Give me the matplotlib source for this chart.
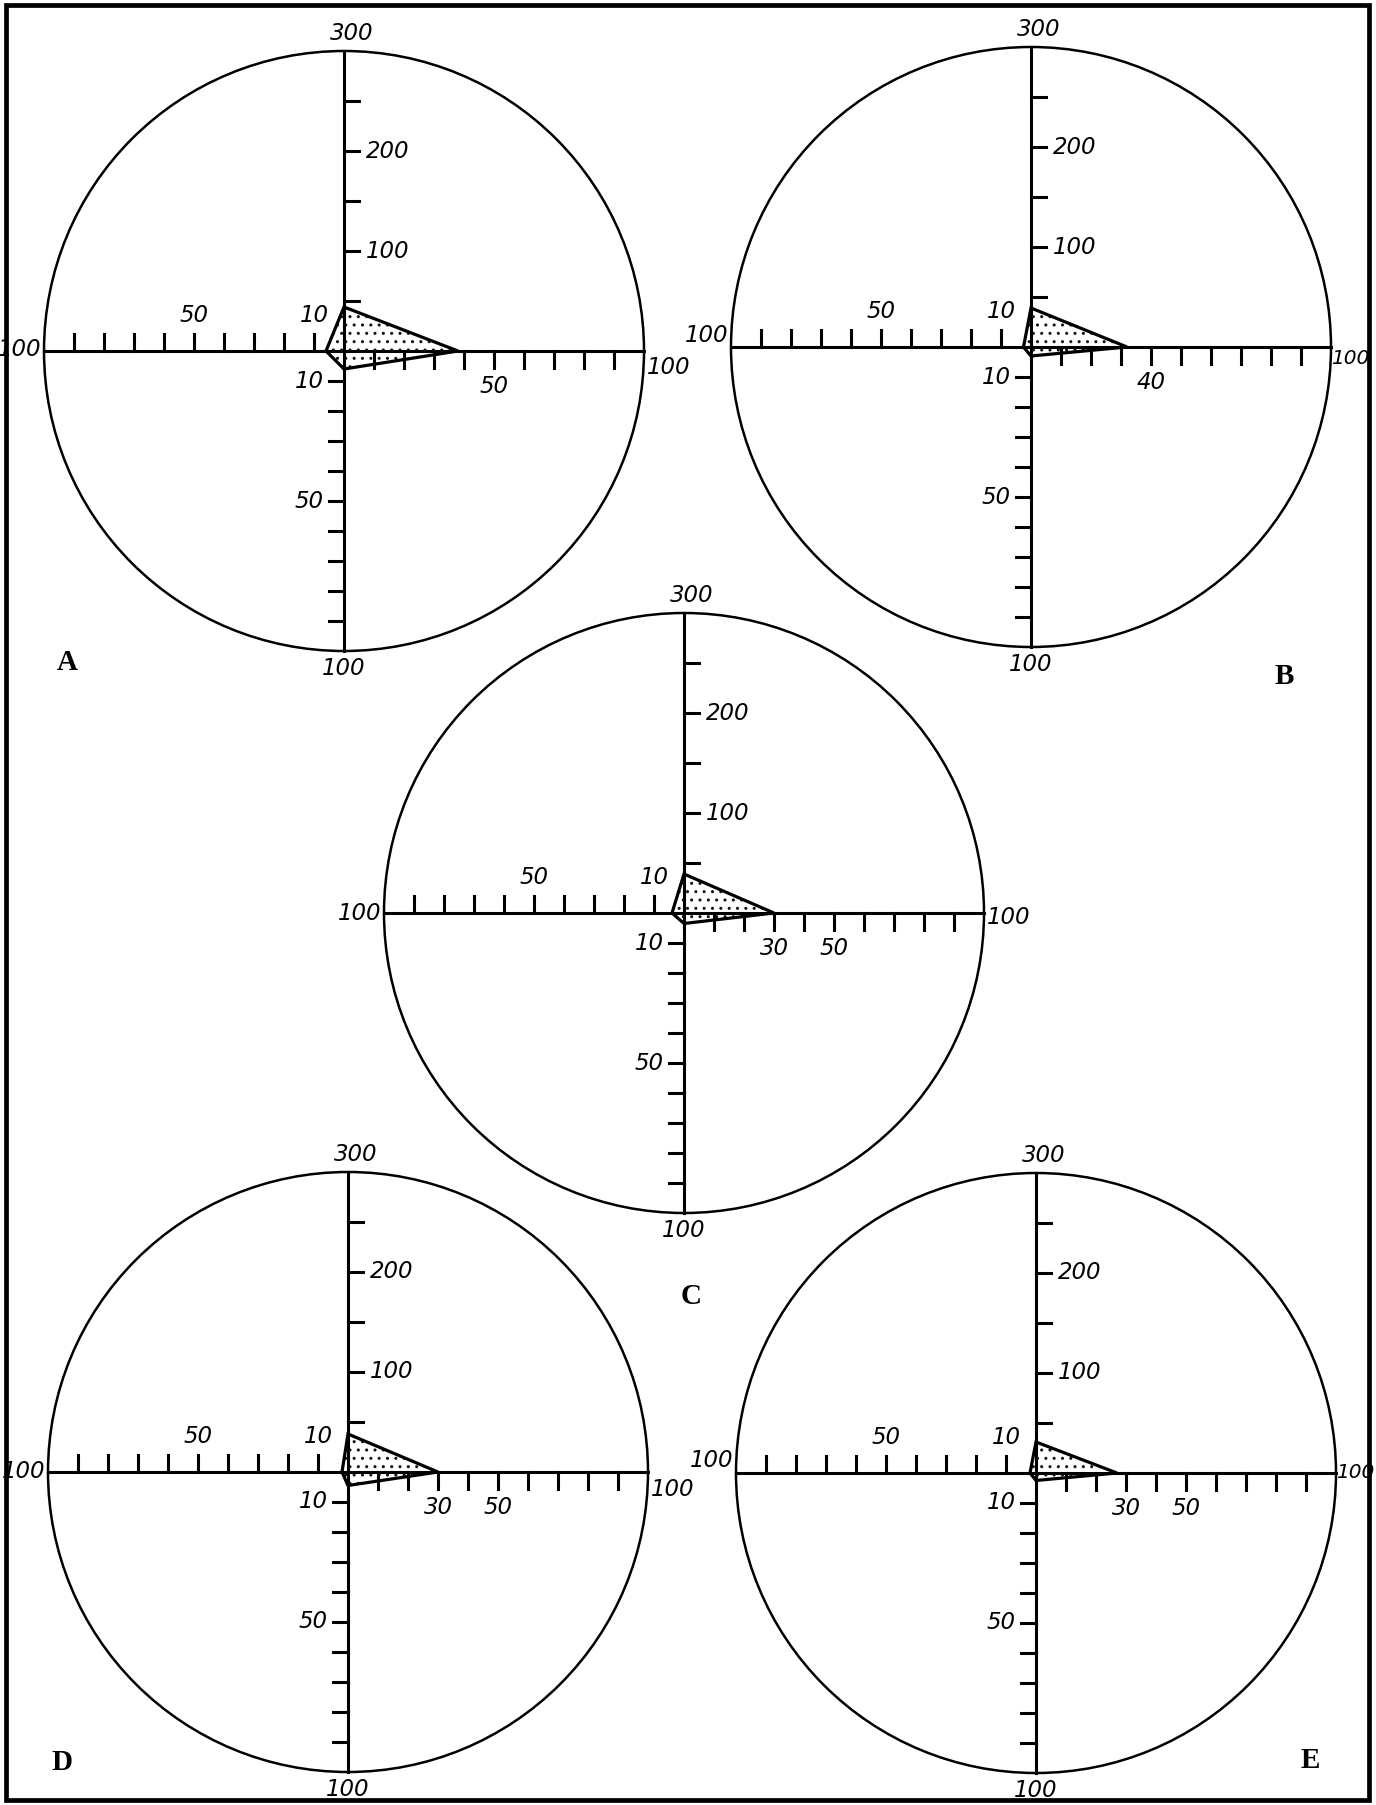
import matplotlib
matplotlib.use("Agg")
import matplotlib.pyplot as plt
from matplotlib.patches import Circle, Polygon, Rectangle

# ---- data -------------------------------------------------------------
panels = ["A", "B", "C", "D", "E"]
up_vals = [44, 39, 39, 38, 31]       # upper arm, full scale 300
right_vals = [38, 32, 30, 30, 27]    # right arm, full scale 100
down_vals = [6, 3, 3.5, 4.5, 2.5]    # lower arm, full scale 100
left_vals = [6, 2.5, 4, 2, 2]        # left arm, full scale 100

up_max = 300
side_max = 100

up_ticks = [50, 100, 150, 200, 250]
up_ticklabels = ["", "100", "", "200", ""]
side_ticks = [10, 20, 30, 40, 50, 60, 70, 80, 90]
left_ticklabels = ["10", "", "", "", "50", "", "", "", ""]
down_ticklabels = ["10", "", "", "", "50", "", "", "", ""]
right_ticklabels = [
    ["", "", "", "", "50", "", "", "", ""],
    ["", "", "", "40", "", "", "", "", ""],
    ["", "", "30", "", "50", "", "", "", ""],
    ["", "", "30", "", "50", "", "", "", ""],
    ["", "", "30", "", "50", "", "", "", ""],
]
rim_top_label = "300"
rim_side_label = "100"

# ---- layout (pixels) ----------------------------------------------------
W, H = 1376, 1805
DPI = 100
R = 300.0                      # radius of each dial in pixels
HALF = 400.0                   # half-size of each axes box in pixels
centers = [(344, 351), (1031, 347), (684, 913), (348, 1472), (1036, 1473)]
letter_pos = [(67, 662), (1284, 677), (691, 1296), (62, 1762), (1310, 1760)]
# vertical pixel offsets (down is positive) of the rim labels on the left/right arms
left_rim_dy = [-2, -11, 0, 0, -12]
right_rim_dy = [17, 12, 5, 18, 0]
# the dials at the right margin get a tighter rim label
right_rim_gap = [3, 0, 3, 3, 0]
right_rim_size = [16.5, 14.5, 16.5, 16.5, 14.5]

num_font = dict(family="DejaVu Sans", style="italic", fontsize=16.5, color="black")
letter_font = dict(family="Liberation Serif", fontweight="bold", fontsize=21, color="black")

fig = plt.figure(figsize=(W / DPI, H / DPI), dpi=DPI)
fig.patch.set_facecolor("white")

# outer frame
frame_ax = fig.add_axes([0, 0, 1, 1])
frame_ax.set_xlim(0, W)
frame_ax.set_ylim(H, 0)
frame_ax.axis("off")
frame_ax.add_patch(Rectangle((6, 5), 1363, 1795, fill=False, lw=3.4, ec="black"))

k = HALF / R       # axes half-width in radius units
px = 1.0 / R       # one pixel in radius units
lw_axis = 2.2
tick_len = 17 * px

for i, name in enumerate(panels):
    cx, cy = centers[i]
    ax = fig.add_axes([(cx - HALF) / W, 1 - (cy + HALF) / H, 2 * HALF / W, 2 * HALF / H])
    ax.set_xlim(-k, k)
    ax.set_ylim(-k, k)
    ax.set_aspect("equal")
    ax.axis("off")

    # dial rim and the four arms
    ax.add_patch(Circle((0, 0), 1.0, fill=False, lw=1.8, ec="black", zorder=2))
    ax.plot([-1, 1], [0, 0], color="black", lw=lw_axis, zorder=3)
    ax.plot([0, 0], [-1, 1], color="black", lw=lw_axis, zorder=3)

    # upper arm ticks (right side of the arm)
    for t, lab in zip(up_ticks, up_ticklabels):
        y = t / up_max
        ax.plot([0, 15 * px], [y, y], color="black", lw=lw_axis, zorder=3)
        if lab:
            ax.text(22 * px, y, lab, ha="left", va="center", **num_font)

    # side arms
    for t, llab, dlab, rlab in zip(side_ticks, left_ticklabels, down_ticklabels,
                                   right_ticklabels[i]):
        v = t / side_max
        ax.plot([-v, -v], [0, tick_len], color="black", lw=lw_axis, zorder=3)
        ax.plot([v, v], [0, -tick_len], color="black", lw=lw_axis, zorder=3)
        ax.plot([-15 * px, 0], [-v, -v], color="black", lw=lw_axis, zorder=3)
        if llab:
            ax.text(-v, 24 * px, llab, ha="center", va="bottom", **num_font)
        if dlab:
            ax.text(-20 * px, -v, dlab, ha="right", va="center", **num_font)
        if rlab:
            ax.text(v, -24 * px, rlab, ha="center", va="top", **num_font)

    # rim labels
    ax.text(8 * px, 1 + 6 * px, rim_top_label, ha="center", va="bottom", **num_font)
    ax.text(0, -1 - 6 * px, rim_side_label, ha="center", va="top", **num_font)
    ax.text(-1 - 3 * px, -left_rim_dy[i] * px, rim_side_label, ha="right",
            va="center", **num_font)
    right_font = dict(num_font, fontsize=right_rim_size[i])
    ax.text(1 + right_rim_gap[i] * px, -right_rim_dy[i] * px, rim_side_label,
            ha="left", va="center", **right_font)

    # stippled profile polygon
    verts = [(0, up_vals[i] / up_max), (right_vals[i] / side_max, 0),
             (0, -down_vals[i] / side_max), (-left_vals[i] / side_max, 0)]
    ax.add_patch(Polygon(verts, closed=True, fill=False, hatch="..", lw=0,
                         ec="#111111", zorder=4))
    ax.add_patch(Polygon(verts, closed=True, fill=False, lw=2.3, ec="black",
                         joinstyle="miter", zorder=5))

    # panel letter
    lx, ly = letter_pos[i]
    frame_ax.text(lx, ly, name, ha="center", va="center", **letter_font)

fig.savefig("out.png", dpi=DPI, facecolor="white")
